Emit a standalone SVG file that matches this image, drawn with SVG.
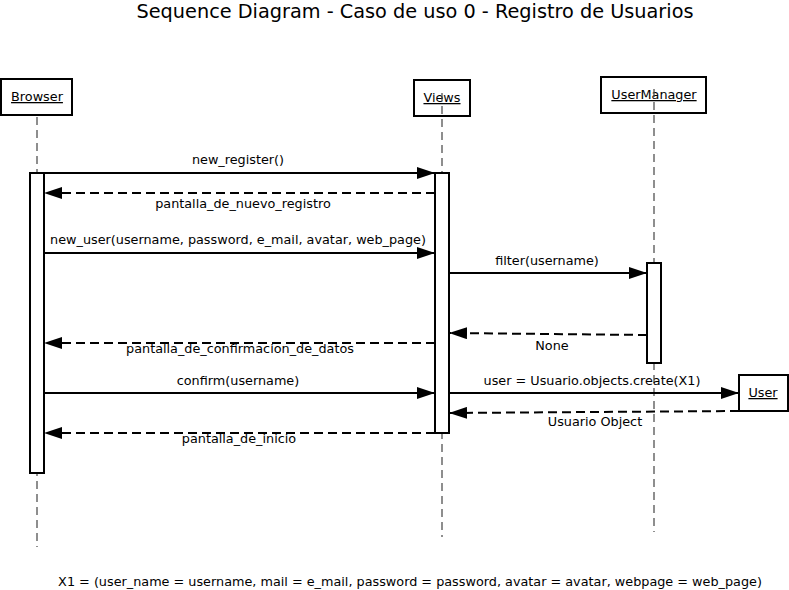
<svg xmlns="http://www.w3.org/2000/svg" width="789" height="590" viewBox="0 0 789 590">
<style>
text{font-family:"DejaVu Sans","Liberation Sans",sans-serif;fill:#000}
.lbl{font-size:12.8px;text-anchor:middle}
.obj{font-size:12.8px;text-anchor:middle;text-decoration:underline}
.box{fill:#fff;stroke:#000;stroke-width:2}
.act{fill:#fff;stroke:#000;stroke-width:2}
.life{stroke:#444;stroke-width:1.2;stroke-dasharray:8 5;fill:none}
.msg{stroke:#000;stroke-width:2;fill:none;marker-end:url(#ah)}
.ret{stroke:#000;stroke-width:2;fill:none;stroke-dasharray:9 5;marker-end:url(#ah)}
</style>
<defs>
<marker id="ah" markerWidth="18" markerHeight="12" refX="18" refY="6" orient="auto" markerUnits="userSpaceOnUse">
<path d="M0,0 L18,6 L0,12 Z" fill="#000"/>
</marker>
</defs>
<rect width="789" height="590" fill="#fff"/>
<text x="415" y="18" font-size="19.3" text-anchor="middle">Sequence Diagram - Caso de uso 0 - Registro de Usuarios</text>

<g id="browser">
<rect class="box" x="1" y="79" width="71" height="36"/>
<text class="obj" x="37" y="101">Browser</text>
</g>
<g id="views">
<rect class="box" x="414" y="80" width="56" height="36"/>
<text class="obj" x="442" y="102">Views</text>
</g>
<g id="usermanager">
<rect class="box" x="601" y="77" width="105" height="36"/>
<text class="obj" x="654" y="99">UserManager</text>
</g>
<g id="user">
<rect class="box" x="739" y="375" width="49" height="36"/>
<text class="obj" x="763" y="397">User</text>
</g>

<g id="lifelines">
<line class="life" x1="37" y1="117" x2="37" y2="547"/>
<line class="life" x1="442" y1="93" x2="442" y2="537"/>
<line class="life" x1="654" y1="89" x2="654" y2="532"/>
</g>

<g id="activations">
<rect class="act" x="30" y="173" width="14" height="300"/>
<rect class="act" x="435" y="173" width="14" height="260"/>
<rect class="act" x="647" y="263" width="14" height="100"/>
</g>

<g id="connectors">
<line class="msg" x1="44" y1="173" x2="435" y2="173"/>
<text class="lbl" x="238" y="164">new_register()</text>
<line class="ret" x1="435" y1="193" x2="44" y2="193"/>
<text class="lbl" x="243" y="208">pantalla_de_nuevo_registro</text>
<line class="msg" x1="44" y1="253" x2="435" y2="253"/>
<text class="lbl" x="238" y="244">new_user(username, password, e_mail, avatar, web_page)</text>
<line class="msg" x1="449" y1="273" x2="647" y2="273"/>
<text class="lbl" x="547" y="265">filter(username)</text>
<line class="ret" x1="647" y1="335" x2="449" y2="333"/>
<text class="lbl" x="552" y="350">None</text>
<line class="ret" x1="435" y1="343" x2="44" y2="343"/>
<text class="lbl" x="240" y="353">pantalla_de_confirmacion_de_datos</text>
<line class="msg" x1="44" y1="393" x2="435" y2="393"/>
<text class="lbl" x="238" y="385">confirm(username)</text>
<line class="msg" x1="449" y1="393" x2="739" y2="393"/>
<text class="lbl" x="592" y="385">user = Usuario.objects.create(X1)</text>
<line class="ret" x1="739" y1="411" x2="449" y2="413"/>
<text class="lbl" x="595" y="426">Usuario Object</text>
<line class="ret" x1="435" y1="433" x2="44" y2="433"/>
<text class="lbl" x="239" y="443">pantalla_de_inicio</text>
</g>

<text class="lbl" x="410" y="586">X1 = (user_name = username, mail = e_mail, password = password, avatar = avatar, webpage = web_page)</text>
</svg>
